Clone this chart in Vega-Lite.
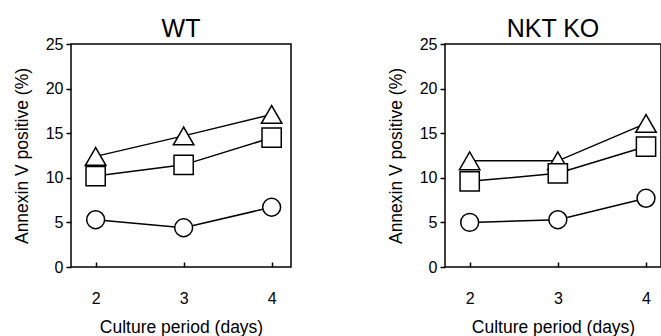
{
  "$schema": "https://vega.github.io/schema/vega-lite/v6.json",
  "padding": {"left": 12, "top": 16, "right": 0, "bottom": 0},
  "background": "white",
  "config": {
    "font": "Liberation Sans",
    "view": {"stroke": "black", "strokeWidth": 1.5},
    "axis": {"grid": false, "domain": false, "tickColor": "black", "tickWidth": 1.5, "labelColor": "black", "titleColor": "black", "labelFont": "Liberation Sans", "titleFont": "Liberation Sans", "labelFontSize": 16, "titleFontSize": 17.5, "titleFontWeight": "normal"},
    "title": {"font": "Liberation Sans", "fontSize": 25, "fontWeight": "normal", "color": "black", "offset": -6}
  },
  "datasets": {
    "d": [
      {"panel": "WT", "day": 2, "series": "triangle", "value": 12.4},
      {"panel": "WT", "day": 3, "series": "triangle", "value": 14.7},
      {"panel": "WT", "day": 4, "series": "triangle", "value": 17.1},
      {"panel": "WT", "day": 2, "series": "square", "value": 10.2},
      {"panel": "WT", "day": 3, "series": "square", "value": 11.45},
      {"panel": "WT", "day": 4, "series": "square", "value": 14.5},
      {"panel": "WT", "day": 2, "series": "circle", "value": 5.3},
      {"panel": "WT", "day": 3, "series": "circle", "value": 4.4},
      {"panel": "WT", "day": 4, "series": "circle", "value": 6.7},
      {"panel": "NKT KO", "day": 2, "series": "triangle", "value": 11.9},
      {"panel": "NKT KO", "day": 3, "series": "triangle", "value": 11.9},
      {"panel": "NKT KO", "day": 4, "series": "triangle", "value": 16.1},
      {"panel": "NKT KO", "day": 2, "series": "square", "value": 9.6},
      {"panel": "NKT KO", "day": 3, "series": "square", "value": 10.5},
      {"panel": "NKT KO", "day": 4, "series": "square", "value": 13.5},
      {"panel": "NKT KO", "day": 2, "series": "circle", "value": 5.0},
      {"panel": "NKT KO", "day": 3, "series": "circle", "value": 5.3},
      {"panel": "NKT KO", "day": 4, "series": "circle", "value": 7.7}
    ]
  },
  "spacing": 94,
  "hconcat": [
    {
      "title": "WT",
      "width": 220,
      "height": 223,
      "data": {"name": "d"},
      "transform": [{"filter": "datum.panel === 'WT'"}],
      "encoding": {
        "x": {"field": "day", "type": "quantitative", "scale": {"domain": [1.72, 4.22], "nice": false, "zero": false}, "axis": {"values": [2, 3, 4], "tickSize": -5, "labelPadding": 28, "title": "Culture period (days)", "titlePadding": 12}},
        "y": {"field": "value", "type": "quantitative", "scale": {"domain": [0, 25], "nice": false}, "axis": {"values": [0, 5, 10, 15, 20, 25], "tickSize": 5, "labelPadding": 3, "title": "Annexin V positive (%)", "titlePadding": 14}}
      },
      "layer": [
        {"mark": {"type": "line", "color": "black", "strokeWidth": 1.5}, "encoding": {"detail": {"field": "series"}}},
        {"mark": {"type": "point", "filled": true, "fill": "white", "stroke": "black", "strokeWidth": 1.5, "opacity": 1}, "encoding": {
          "shape": {"field": "series", "type": "nominal", "scale": {"domain": ["triangle", "square", "circle"], "range": ["triangle-up", "square", "circle"]}, "legend": null},
          "size": {"field": "series", "type": "nominal", "scale": {"domain": ["triangle", "square", "circle"], "range": [420, 320, 320]}, "legend": null}
        }}
      ]
    },
    {
      "title": "NKT KO",
      "width": 216,
      "height": 223,
      "data": {"name": "d"},
      "transform": [{"filter": "datum.panel === 'NKT KO'"}],
      "encoding": {
        "x": {"field": "day", "type": "quantitative", "scale": {"domain": [1.72, 4.17], "nice": false, "zero": false}, "axis": {"values": [2, 3, 4], "tickSize": -5, "labelPadding": 28, "title": "Culture period (days)", "titlePadding": 12}},
        "y": {"field": "value", "type": "quantitative", "scale": {"domain": [0, 25], "nice": false}, "axis": {"values": [0, 5, 10, 15, 20, 25], "tickSize": 5, "labelPadding": 3, "title": "Annexin V positive (%)", "titlePadding": 14}}
      },
      "layer": [
        {"mark": {"type": "line", "color": "black", "strokeWidth": 1.5}, "encoding": {"detail": {"field": "series"}}},
        {"mark": {"type": "point", "filled": true, "fill": "white", "stroke": "black", "strokeWidth": 1.5, "opacity": 1}, "encoding": {
          "shape": {"field": "series", "type": "nominal", "scale": {"domain": ["triangle", "square", "circle"], "range": ["triangle-up", "square", "circle"]}, "legend": null},
          "size": {"field": "series", "type": "nominal", "scale": {"domain": ["triangle", "square", "circle"], "range": [420, 320, 320]}, "legend": null}
        }}
      ]
    }
  ]
}
